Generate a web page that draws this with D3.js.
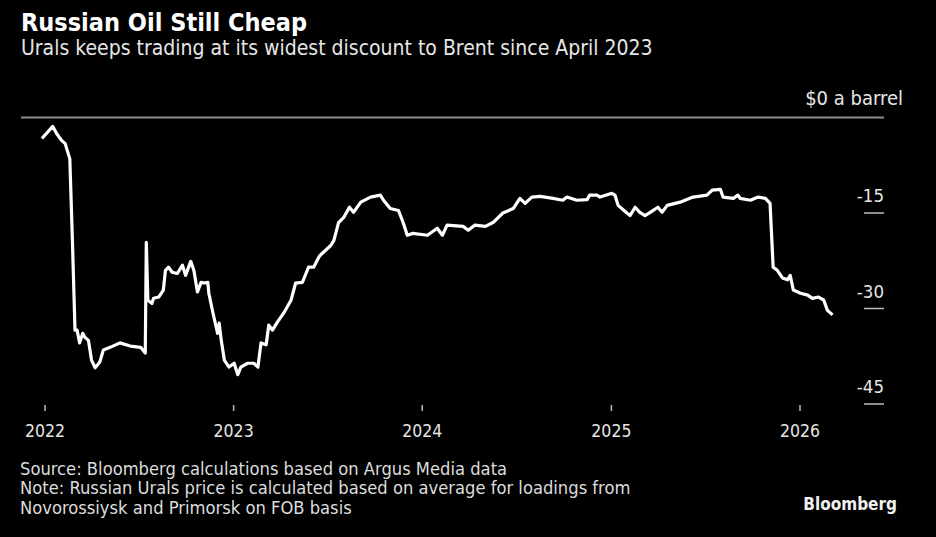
<!DOCTYPE html>
<html>
<head>
<meta charset="utf-8">
<script src="https://cdn.jsdelivr.net/npm/d3@7"></script>
<style>
  body { margin: 0; background: #000; }
  svg { display: block; }
  text { font-family: "DejaVu Sans Condensed", "Liberation Sans Narrow", sans-serif; }
</style>
</head>
<body>
<script>
// Urals discount to Brent, $ a barrel
var dates = ["2021-12-27","2022-01-17","2022-01-25","2022-02-03","2022-02-10","2022-02-19","2022-02-24","2022-03-01","2022-03-05","2022-03-10",
  "2022-03-16","2022-03-20","2022-03-27","2022-04-02","2022-04-09","2022-04-18","2022-04-25","2022-05-08","2022-05-27","2022-06-16",
  "2022-07-06","2022-07-15","2022-07-17","2022-07-20","2022-07-28","2022-07-31","2022-08-10","2022-08-19","2022-08-23","2022-08-29",
  "2022-09-05","2022-09-15","2022-09-25","2022-10-01","2022-10-11","2022-10-17","2022-10-24","2022-10-31","2022-11-06","2022-11-13",
  "2022-11-15","2022-11-23","2022-12-02","2022-12-05","2022-12-09","2022-12-15","2022-12-24","2023-01-03","2023-01-10","2023-01-16",
  "2023-01-29","2023-02-10","2023-02-18","2023-02-24","2023-03-06","2023-03-11","2023-03-18","2023-03-28","2023-04-09","2023-04-23",
  "2023-05-02","2023-05-15","2023-05-22","2023-05-27","2023-06-06","2023-06-16","2023-06-19","2023-07-09","2023-07-15","2023-07-24",
  "2023-08-03","2023-08-14","2023-08-22","2023-09-05","2023-09-24","2023-10-13","2023-10-19","2023-11-01","2023-11-17","2023-11-26",
  "2023-12-04","2023-12-15","2024-01-12","2024-01-31","2024-02-10","2024-02-19","2024-03-21","2024-03-31","2024-04-13","2024-05-03",
  "2024-05-18","2024-06-06","2024-06-26","2024-07-09","2024-07-19","2024-08-01","2024-08-17","2024-09-11","2024-09-30","2024-10-08",
  "2024-10-27","2024-11-16","2024-11-21","2024-12-05","2024-12-11","2025-01-03","2025-01-09","2025-01-15","2025-02-01","2025-02-07",
  "2025-02-17","2025-02-26","2025-03-08","2025-03-18","2025-04-02","2025-04-10","2025-04-20","2025-05-15","2025-06-09","2025-07-06",
  "2025-07-16","2025-08-01","2025-08-06","2025-08-26","2025-09-04","2025-09-08","2025-09-28","2025-10-13","2025-10-27","2025-11-05",
  "2025-11-11","2025-11-19","2025-11-29","2025-12-09","2025-12-14","2025-12-20","2026-01-03","2026-01-17","2026-01-26","2026-02-07",
  "2026-02-17","2026-02-24","2026-03-06"];
var discount = [-3.3,-1.4,-2.6,-3.6,-4.1,-6.5,-19.3,-33.4,-33.4,-35.4,
  -33.9,-34.5,-35.0,-38.1,-39.3,-38.4,-36.5,-36.1,-35.4,-35.9,
  -36.1,-37.0,-19.6,-28.7,-29.2,-28.4,-28.2,-27.1,-24.0,-23.5,
  -24.3,-24.5,-23.2,-24.8,-22.6,-24.0,-27.4,-25.9,-26.0,-25.9,
  -27.6,-30.7,-33.9,-32.3,-35.0,-38.1,-39.2,-38.6,-40.4,-39.2,
  -38.6,-38.6,-39.2,-35.4,-35.7,-32.6,-33.4,-32.1,-30.7,-28.7,
  -26.0,-25.9,-24.5,-23.5,-23.5,-21.9,-21.6,-20.1,-19.3,-16.5,
  -15.7,-14.1,-14.9,-13.3,-12.5,-12.2,-13.0,-14.3,-14.6,-16.5,
  -18.5,-18.2,-18.5,-17.4,-18.5,-16.9,-17.1,-17.7,-16.9,-17.1,
  -16.5,-15.0,-14.3,-12.7,-13.5,-12.5,-12.4,-12.7,-13.0,-12.5,
  -13.0,-12.9,-12.2,-12.2,-12.5,-11.9,-12.2,-13.8,-15.0,-15.4,
  -14.1,-14.9,-15.4,-14.9,-14.1,-14.9,-13.8,-13.3,-12.5,-12.2,
  -11.4,-11.3,-12.5,-12.7,-12.2,-12.7,-13.0,-12.5,-12.7,-13.5,
  -23.5,-24.0,-25.2,-25.5,-24.8,-27.1,-27.6,-27.9,-28.4,-28.2,
  -28.7,-30.3,-31.0];
var yTicks = [-15, -30, -45];
var xTicks = ["2022-01-01","2023-01-01","2024-01-01","2025-01-01","2026-01-01"];

var W = 936, H = 537;
var parse = d3.timeParse("%Y-%m-%d");

var svg = d3.select("body").append("svg")
  .attr("width", W)
  .attr("height", H);

svg.append("rect").attr("width", W).attr("height", H).attr("fill", "#000");

// titles
svg.append("text")
  .attr("x", 21).attr("y", 31)
  .attr("fill", "#fff")
  .style("font-weight", "bold")
  .style("font-size", "25px")
  .text("Russian Oil Still Cheap");
svg.append("text")
  .attr("x", 21).attr("y", 55)
  .attr("fill", "#e6e6e6")
  .style("font-size", "21px")
  .text("Urals keeps trading at its widest discount to Brent since April 2023");

var x = d3.scaleTime()
  .domain([parse("2022-01-01"), parse("2026-01-01")])
  .range([44.5, 799.5]);
var y = d3.scaleLinear()
  .domain([0, -45])
  .range([117.5, 404]);

// zero line + unit label
svg.append("line")
  .attr("x1", 21).attr("x2", 884)
  .attr("y1", y(0)).attr("y2", y(0))
  .attr("stroke", "#8c8c8c")
  .attr("stroke-width", 2);
svg.append("text")
  .attr("x", 903).attr("y", 105)
  .attr("text-anchor", "end")
  .attr("fill", "#e6e6e6")
  .style("font-size", "20px")
  .text("$0 a barrel");

// y ticks: short dash under a right-aligned label
var yg = svg.append("g");
yg.selectAll(".ytick")
  .data(yTicks)
  .enter()
  .append("line")
  .attr("class", "ytick")
  .attr("x1", 864).attr("x2", 884)
  .attr("y1", function(d){ return y(d); })
  .attr("y2", function(d){ return y(d); })
  .attr("stroke", "#bbb")
  .attr("stroke-width", 1.5);
yg.selectAll(".ylabel")
  .data(yTicks)
  .enter()
  .append("text")
  .attr("class", "ylabel")
  .attr("x", 884)
  .attr("y", function(d){ return y(d) - 11; })
  .attr("text-anchor", "end")
  .attr("fill", "#e6e6e6")
  .style("font-size", "18.5px")
  .text(function(d){ return "-" + Math.abs(d); });

// x axis
var xAxis = d3.axisBottom(x)
  .tickValues(xTicks.map(parse))
  .tickFormat(d3.timeFormat("%Y"))
  .tickSize(6)
  .tickPadding(14);
var xg = svg.append("g")
  .attr("transform", "translate(0,405)")
  .call(xAxis);
xg.select(".domain").remove();
xg.selectAll(".tick line").attr("stroke", "#bbb").attr("stroke-width", 1.5);
xg.selectAll(".tick text")
  .attr("fill", "#e6e6e6")
  .style("font-family", "'DejaVu Sans Condensed', sans-serif")
  .style("font-size", "17.5px");

// the line
var line = d3.line()
  .x(function(d, i){ return x(parse(dates[i])); })
  .y(function(d){ return y(d); });
svg.append("path")
  .datum(discount)
  .attr("d", line)
  .attr("fill", "none")
  .attr("stroke", "#fff")
  .attr("stroke-width", 3.2)
  .attr("stroke-linejoin", "round");

// footer
var notes = ["Source: Bloomberg calculations based on Argus Media data",
  "Note: Russian Urals price is calculated based on average for loadings from",
  "Novorossiysk and Primorsk on FOB basis"];
svg.selectAll(".note")
  .data(notes)
  .enter()
  .append("text")
  .attr("class", "note")
  .attr("x", 20)
  .attr("y", function(d, i){ return 475 + i * 19.3; })
  .attr("fill", "#dcdcdc")
  .style("font-size", "18.2px")
  .text(String);
svg.append("text")
  .attr("x", 897).attr("y", 510)
  .attr("text-anchor", "end")
  .attr("fill", "#f0f0f0")
  .style("font-weight", "bold")
  .style("font-size", "17px")
  .text("Bloomberg");
</script>
</body>
</html>
